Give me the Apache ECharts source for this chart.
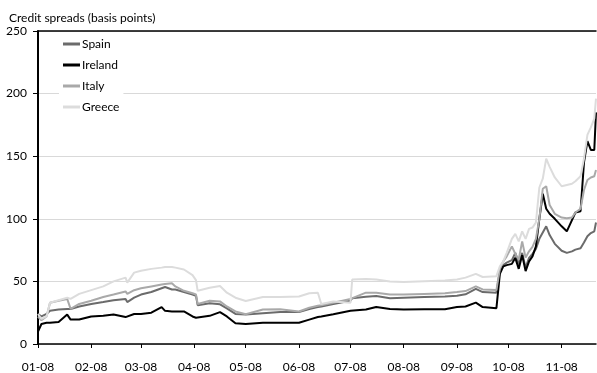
<!DOCTYPE html>
<html>
<head>
<meta charset="utf-8">
<script src="https://cdn.jsdelivr.net/npm/echarts@6/dist/echarts.min.js"></script>
<style>
  html, body { margin: 0; padding: 0; background: #fff; }
  #chart { width: 597px; height: 373px; }
</style>
</head>
<body>
<div id="chart"></div>
<script>
const dates = [
  '2008-01-01','2008-01-03','2008-01-06','2008-01-08','2008-01-13','2008-01-18','2008-01-20','2008-01-25',
  '2008-02-01','2008-02-08','2008-02-14','2008-02-21','2008-02-22','2008-02-26',
  '2008-03-01','2008-03-07','2008-03-13','2008-03-15','2008-03-19','2008-03-21','2008-03-26','2008-03-31',
  '2008-04-02','2008-04-03','2008-04-10','2008-04-16','2008-04-20','2008-04-25',
  '2008-05-01','2008-05-11','2008-05-21',
  '2008-06-01','2008-06-07','2008-06-12','2008-06-14','2008-06-21',
  '2008-07-01','2008-07-02','2008-07-10','2008-07-16','2008-07-24',
  '2008-08-01','2008-08-13','2008-08-25',
  '2008-09-01','2008-09-06','2008-09-12','2008-09-16','2008-09-24','2008-09-26','2008-09-28','2008-09-30',
  '2008-10-03','2008-10-05','2008-10-07','2008-10-09','2008-10-11','2008-10-13','2008-10-15','2008-10-17',
  '2008-10-19','2008-10-21','2008-10-23','2008-10-25','2008-10-28',
  '2008-11-01','2008-11-04','2008-11-07','2008-11-09','2008-11-12','2008-11-14','2008-11-16','2008-11-18',
  '2008-11-20','2008-11-21'
];

const spain = [
  23.8,22,24,26.5,27.5,28,28,30,
  32,33.5,35,36,33.5,37,
  39.5,41.5,44.5,45.5,43.5,43.5,41.5,39.5,
  38.5,31,32.5,31.7,28.5,24,
  23.5,24.6,25.5,
  25.5,28,29.5,30,32,
  34.5,36.5,37.8,38.4,36.5,
  37,37.5,38,
  38.5,39.7,44,41.5,41,58,63,65,
  67,72.8,63.5,72.8,61,68.8,72,76,
  84,89,94,87,80,
  74.5,72.8,74,75.4,76.5,81,86,88.6,
  90,97
];

const ireland = [
  10,16,17,17,17.5,23.5,19.5,19.5,
  22,22.5,23.5,21.5,22,24,
  24,25,29.5,26.5,26,26,26,22,
  21,20.5,22.5,25.5,22,16.5,
  16,17,17,
  17,19.5,21.5,22,23.8,
  26.5,26.5,27.5,29.5,28,
  27.5,27.8,27.8,
  29.5,30,33,29.5,28.6,56,62,63,
  64,68.8,60,71,58.2,66,70,78,
  100,120,108,104,100,
  94,90,99,105,106,145,162,155,
  155,185
];

const italy = [
  22,19,22,33,34.5,36,28,32,
  34.5,37.5,39.5,42,40,43,
  44.5,46,47.5,48,48.5,46,42.5,40.5,
  39.5,32,34.5,34,30,26,
  23.8,27.5,27.8,
  26,29,30.5,31,33,
  36,37.5,41,41,39.5,
  39.5,40,40.5,
  41.5,42.3,46,43.6,43.1,60,66,70,
  78,72,67.5,82,69,74,77.5,84,
  100,124,126,111,104,
  101,100.5,101,105,108,123,131,133,
  134,139
];

const greece = [
  24,20,22,33,35,37,36,40,
  43,46,50,53,49,57,
  58.5,60,61,61.5,61.5,61,59.5,55,
  51,42.5,45,46.3,41,37,
  34.4,37.5,37.5,
  38,40.5,41,32,34,
  33,51.5,52,51.5,50,
  49.5,50.2,50.8,
  51.6,53,56,53.5,54.2,62,66,72.8,
  84,88,82,90,84,92,93,97,
  125,132,148,141.5,133,
  126,127,128,130,134,148,167,173,
  180,196
];

const seriesNames = ['Spain', 'Ireland', 'Italy', 'Greece'];
const monthTicks = ['2008-01-01','2008-02-01','2008-03-01','2008-04-01','2008-05-01','2008-06-01',
  '2008-07-01','2008-08-01','2008-09-01','2008-10-01','2008-11-01'];
const monthLabels = ['01-08','02-08','03-08','04-08','05-08','06-08','07-08','08-08','09-08','10-08','11-08'];
const yTitle = 'Credit spreads (basis points)';

const FONT = 'Lato';
const colors = ['#6b6b6b', '#000000', '#a9a9a9', '#dcdcdc'];
const values = [spain, ireland, italy, greece];

// dates -> UTC timestamps for a numeric axis
const ts = d => Date.parse(d + 'T00:00:00Z');
const tickVals = monthTicks.map(ts);
const labelFor = v => {
  const i = tickVals.indexOf(v);
  return i >= 0 ? monthLabels[i] : '';
};
const xMin = ts(dates[0]), xMax = ts(dates[dates.length - 1]);

const chart = echarts.init(document.getElementById('chart'), null, { renderer: 'canvas' });
chart.setOption({
  animation: false,
  backgroundColor: '#fff',
  textStyle: { fontFamily: FONT },
  title: {
    text: yTitle, left: 4, top: 7,
    textStyle: { fontFamily: FONT, fontSize: 12, fontWeight: 'normal', color: '#000' }
  },
  grid: { left: 38, right: 1, top: 31, bottom: 28 },
  legend: {
    data: seriesNames,
    orient: 'vertical', left: 59, top: 38,
    icon: 'rect', itemWidth: 17, itemHeight: 3, itemGap: 9,
    backgroundColor: '#fff', padding: [0, 4, 0, 4],
    textStyle: { fontFamily: FONT, fontSize: 12, color: '#000', padding: [0, 0, 0, -3] }
  },
  xAxis: [{
    type: 'value',
    min: xMin, max: xMax,
    axisLine: { show: true, onZero: false, lineStyle: { color: '#000', width: 1.5 } },
    axisTick: { show: true, customValues: tickVals, length: 4, lineStyle: { color: '#000', width: 1 } },
    axisLabel: { customValues: tickVals, formatter: labelFor, margin: 17, fontSize: 12, color: '#000', fontFamily: FONT },
    splitLine: { show: false }
  }, {
    type: 'value', position: 'top',
    min: xMin, max: xMax,
    axisLine: { show: true, onZero: false, lineStyle: { color: '#000', width: 1.5 } },
    axisTick: { show: false }, axisLabel: { show: false }, splitLine: { show: false }
  }],
  yAxis: {
    type: 'value', min: 0, max: 250, interval: 50,
    axisLine: { show: true, lineStyle: { color: '#000', width: 2 } },
    axisTick: { show: true, length: 5, lineStyle: { color: '#000', width: 1 } },
    axisLabel: { margin: 11, fontSize: 12, color: '#000', fontFamily: FONT },
    splitLine: { show: true, lineStyle: { color: '#d9d9d9', width: 1 } }
  },
  series: seriesNames.map((name, k) => ({
    name, type: 'line', xAxisIndex: 0,
    data: dates.map((d, i) => [ts(d), values[k][i]]),
    showSymbol: false, symbol: 'none',
    itemStyle: { color: colors[k] },
    lineStyle: { color: colors[k], width: 2 },
    z: 2 + k
  }))
});
</script>
</body>
</html>
